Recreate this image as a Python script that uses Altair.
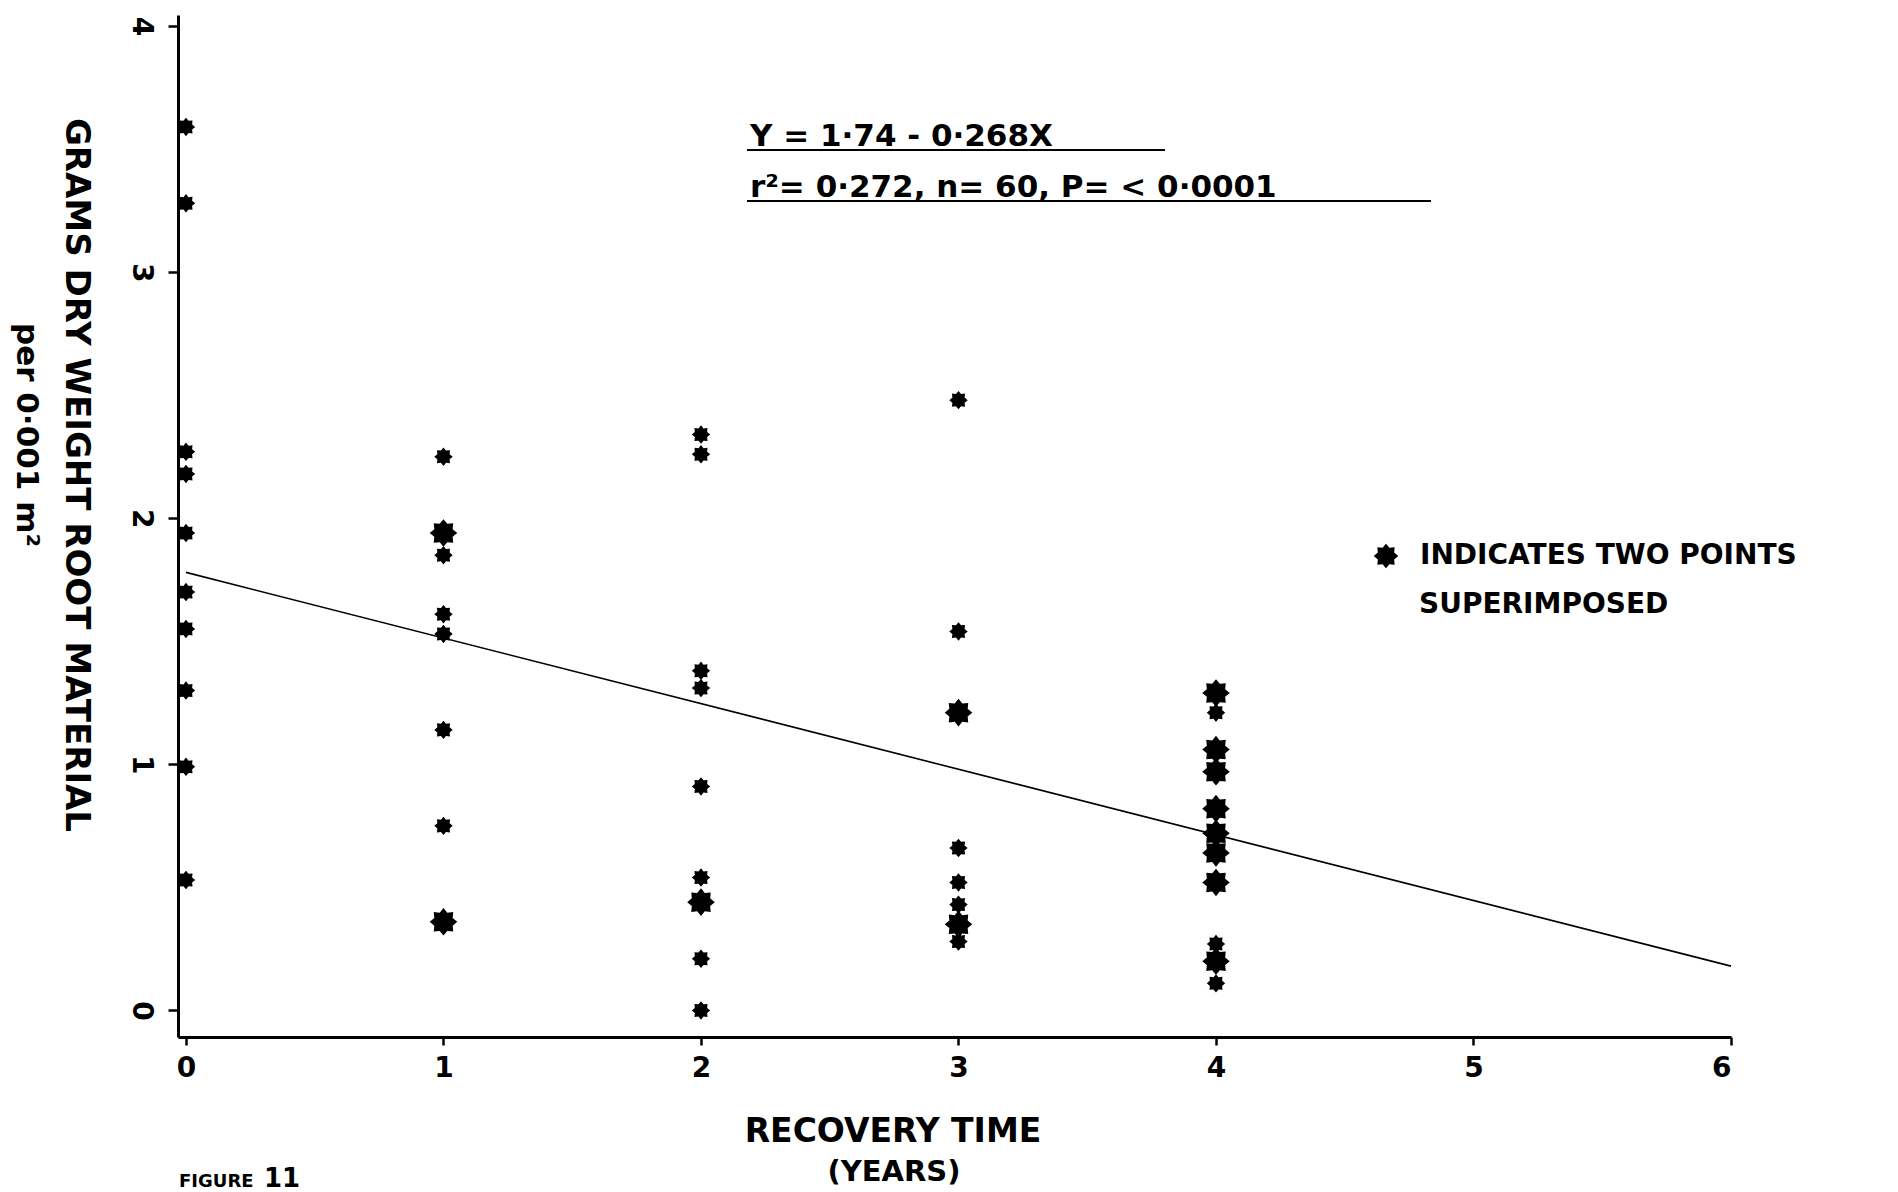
import math
import altair as alt
import pandas as pd

# ---- data ----
year_0 = [3.59, 3.28, 2.27, 2.18, 1.94, 1.70, 1.55, 1.30, 0.99, 0.53]
year_0_n = [1, 1, 1, 1, 1, 1, 1, 1, 1, 1]
year_1 = [2.25, 1.94, 1.85, 1.61, 1.53, 1.14, 0.75, 0.36]
year_1_n = [1, 2, 1, 1, 1, 1, 1, 2]
year_2 = [2.34, 2.26, 1.38, 1.31, 0.91, 0.54, 0.44, 0.21, 0.00]
year_2_n = [1, 1, 1, 1, 1, 1, 2, 1, 1]
year_3 = [2.48, 1.54, 1.21, 0.66, 0.52, 0.43, 0.35, 0.28]
year_3_n = [1, 1, 2, 1, 1, 1, 2, 1]
year_4 = [1.29, 1.21, 1.06, 0.97, 0.82, 0.72, 0.64, 0.52, 0.27, 0.20, 0.11]
year_4_n = [2, 1, 2, 2, 2, 2, 2, 2, 1, 2, 1]

line_x = [0, 6]
line_y = [1.78, 0.18]

x_ticks = [0, 1, 2, 3, 4, 5, 6]
y_ticks = [0, 1, 2, 3, 4]

rows = []
for yr, vals, ns in [(0, year_0, year_0_n), (1, year_1, year_1_n), (2, year_2, year_2_n),
                     (3, year_3, year_3_n), (4, year_4, year_4_n)]:
    for v, n in zip(vals, ns):
        rows.append({"x": yr, "y": v, "n": n})
pts_df = pd.DataFrame(rows)
line_df = pd.DataFrame({"x": line_x, "y": line_y})

# 8-pointed star glyph
star = []
for i in range(16):
    r = 1.0 if i % 2 == 0 else 0.72
    a = 2 * math.pi * i / 16 - math.pi / 2
    star.append(f"{r*math.cos(a):.3f},{r*math.sin(a):.3f}")
STAR = "M" + "L".join(star) + "Z"

FONT = "DejaVu Sans"
W, H = 1553, 1022

xs = alt.Scale(domain=[-0.031, 6.0], nice=False, zero=False)
ys = alt.Scale(domain=[-0.108, 4.045], nice=False, zero=False)

x_axis = alt.Axis(values=x_ticks, format="d", title=None, grid=False,
                  domainColor="black", domainWidth=3, tickColor="black", tickWidth=2.5,
                  tickSize=8, labelFont=FONT, labelFontWeight="bold", labelFontSize=28,
                  labelColor="black", labelPadding=9)
y_axis = alt.Axis(values=y_ticks, format="d", title=None, grid=False,
                  domainColor="black", domainWidth=3, tickColor="black", tickWidth=2.5,
                  tickSize=10, labelFont=FONT, labelFontWeight="bold", labelFontSize=28,
                  labelColor="black", labelAngle=90, labelAlign="center",
                  labelBaseline="top", labelPadding=14)

line = alt.Chart(line_df).mark_line(color="black", strokeWidth=1.6).encode(
    x=alt.X("x:Q", scale=xs, axis=x_axis),
    y=alt.Y("y:Q", scale=ys, axis=y_axis),
)

points = alt.Chart(pts_df).mark_point(shape=STAR, filled=True, color="black",
                                      opacity=1, strokeWidth=0).encode(
    x=alt.X("x:Q", scale=xs),
    y=alt.Y("y:Q", scale=ys),
    size=alt.Size("n:Q", scale=alt.Scale(domain=[1, 2], range=[340, 760]), legend=None),
)

one = alt.Data(values=[{}])


def txt(s, x, y, size, angle=0, align="left", baseline="alphabetic", weight="bold"):
    kw = dict(text=s, font=FONT, fontSize=size, fontWeight=weight, color="black",
              align=align, baseline=baseline)
    if angle:
        kw["angle"] = angle
    return alt.Chart(one).mark_text(**kw).encode(x=alt.value(x), y=alt.value(y))


def rule(x1, x2, y, w=2):
    return alt.Chart(one).mark_rule(color="black", strokeWidth=w).encode(
        x=alt.value(x1), x2=alt.value(x2), y=alt.value(y))


annotations = [
    txt("GRAMS DRY WEIGHT ROOT MATERIAL", -102, 460, 34, angle=90, align="center", baseline="middle"),
    txt("per 0·001 m²", -152, 420, 31, angle=90, align="center", baseline="middle"),
    txt("RECOVERY TIME", 715, 1117, 33, align="center", baseline="middle"),
    txt("(YEARS)", 716, 1157, 29, align="center", baseline="middle"),
    txt("FIGURE", 1, 1172, 18),
    txt("11", 86, 1172, 26),
    txt("Y = 1·74  -  0·268X", 572, 131, 31),
    rule(569, 987, 135),
    txt("r²= 0·272,  n= 60,  P= < 0·0001", 572, 182, 31),
    rule(569, 1253, 186),
    txt("INDICATES TWO  POINTS", 1242, 541, 28, baseline="middle"),
    txt("SUPERIMPOSED", 1241, 590, 28, baseline="middle"),
    alt.Chart(one).mark_point(shape=STAR, filled=True, color="black", opacity=1,
                              strokeWidth=0, size=600).encode(x=alt.value(1208), y=alt.value(541)),
]

chart = alt.layer(line, points, *annotations).properties(
    width=W, height=H,
    padding={"left": 178, "top": 15, "right": 167, "bottom": 155},
    autosize=alt.AutoSizeParams(type="none"),
    background="white",
).configure_view(stroke=None)

chart.save("out.html", embed_options={"renderer": "svg", "actions": False})
